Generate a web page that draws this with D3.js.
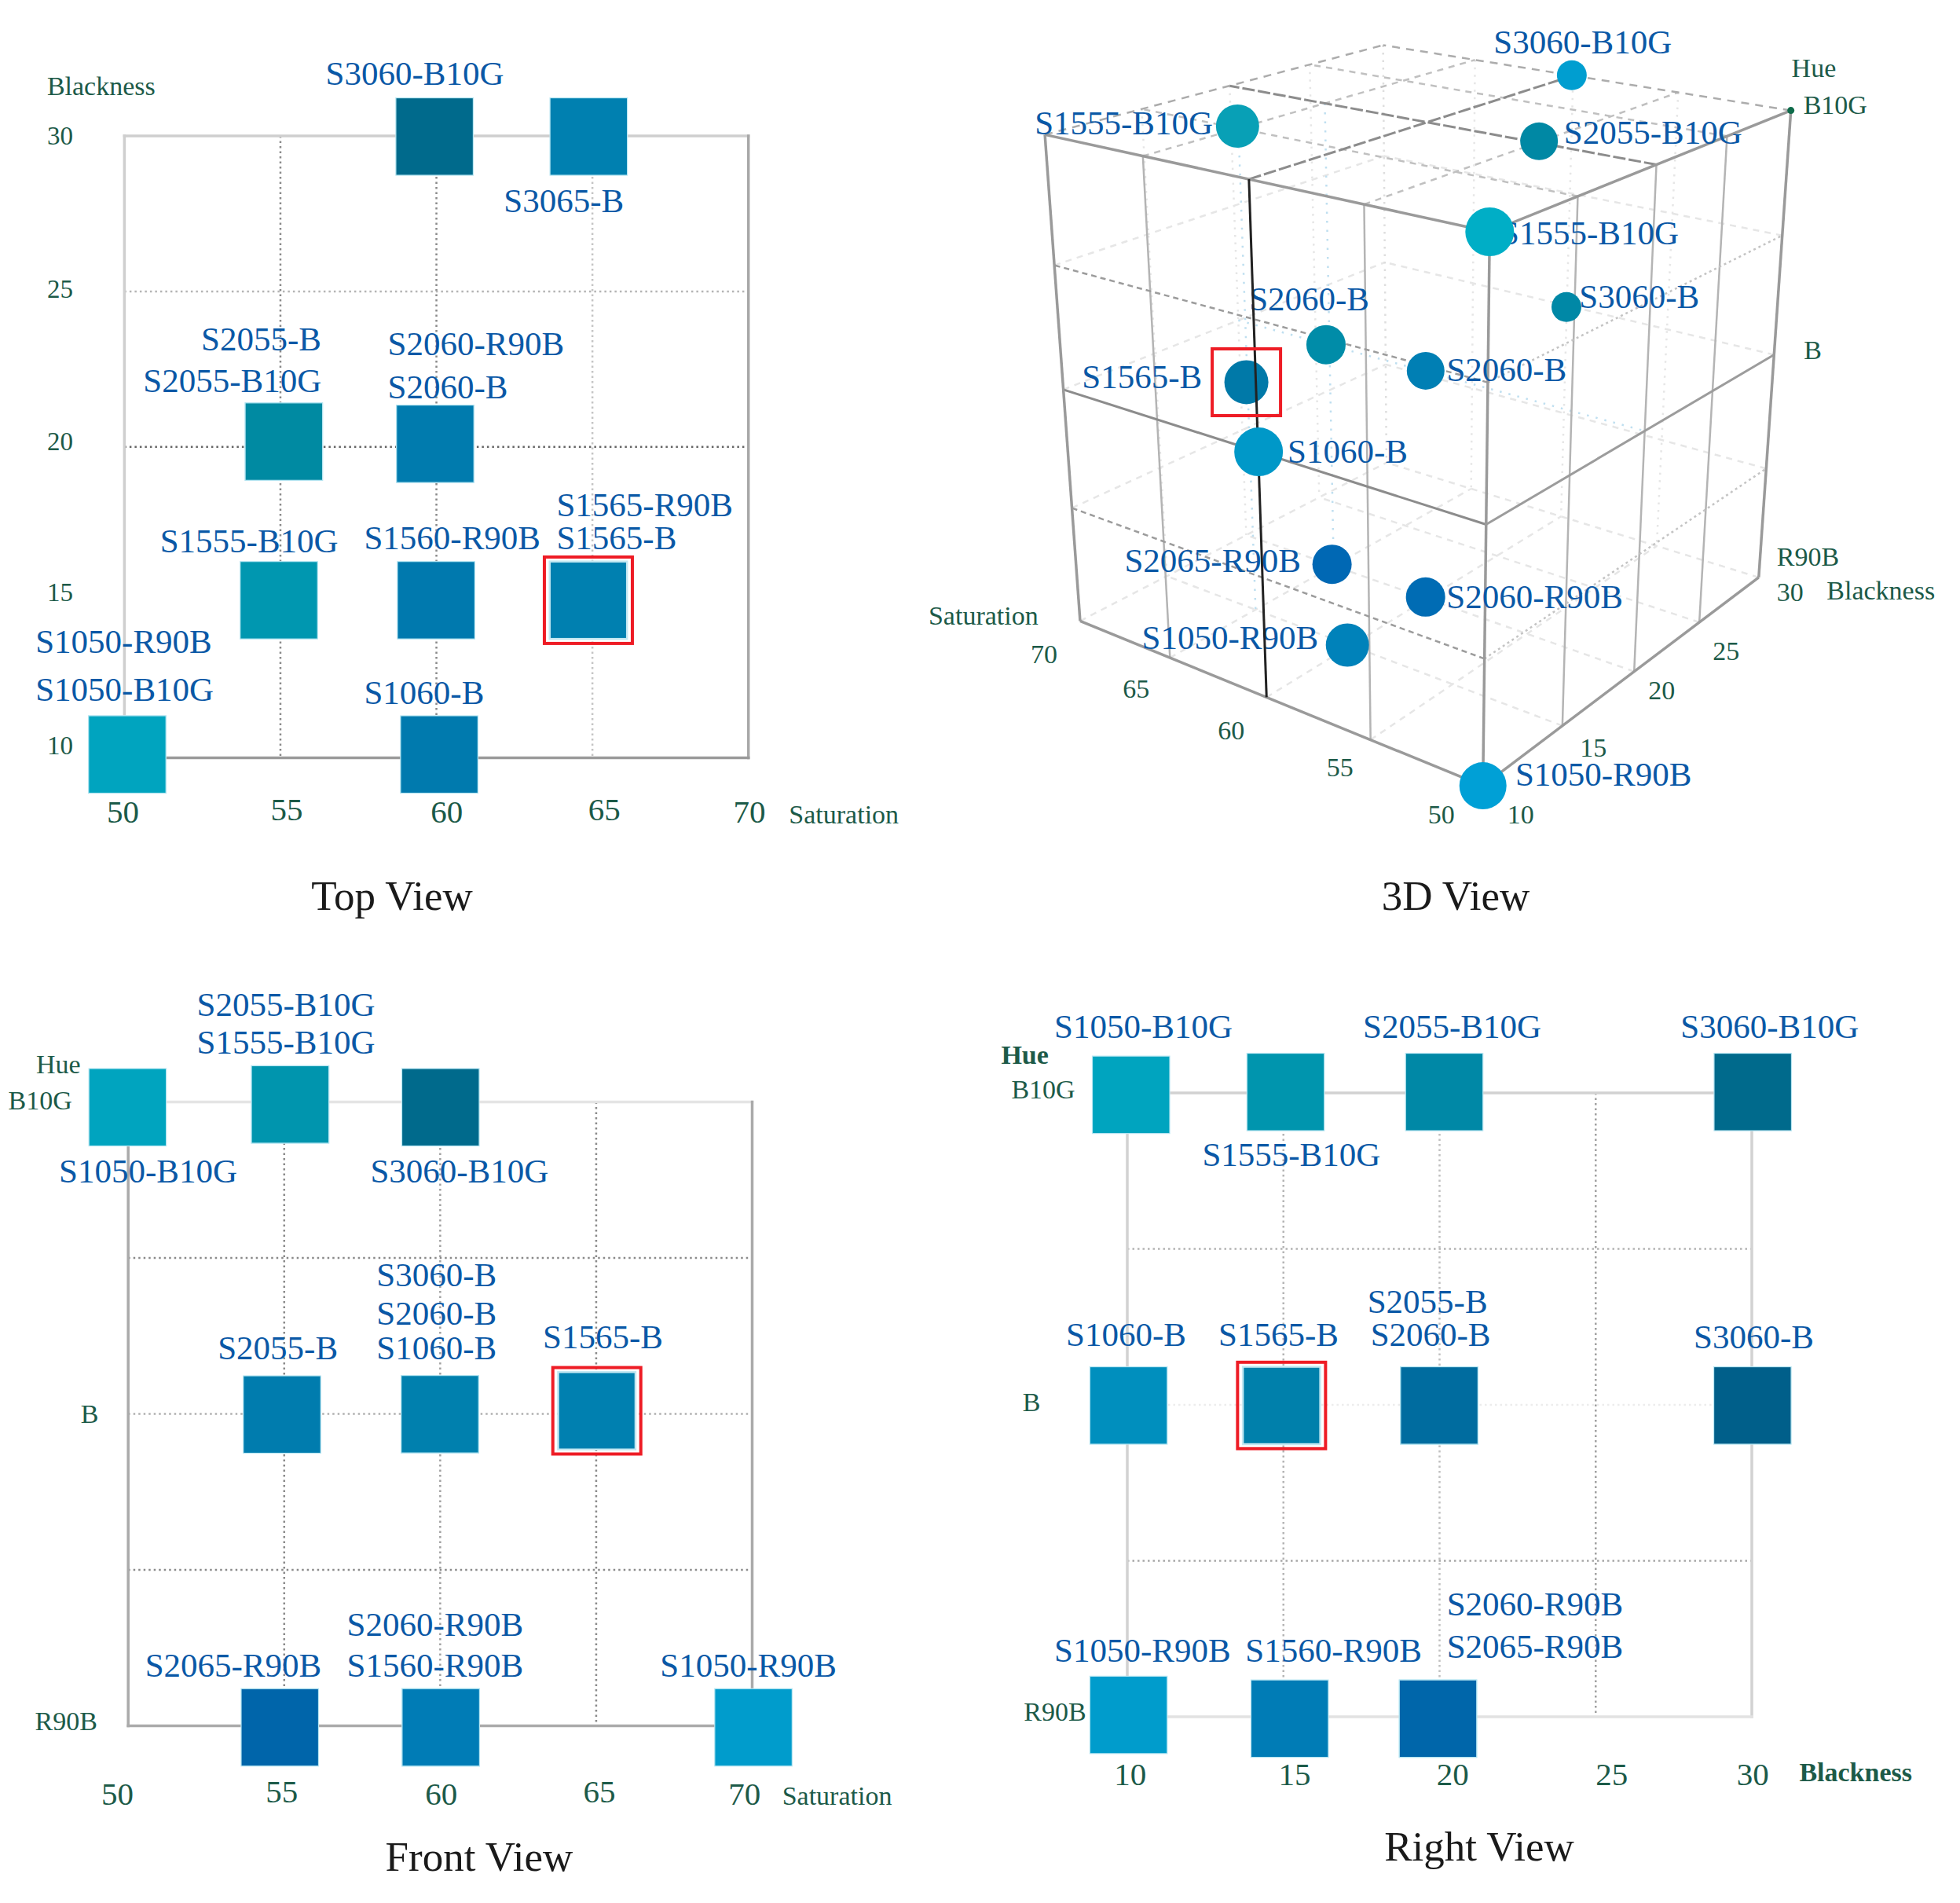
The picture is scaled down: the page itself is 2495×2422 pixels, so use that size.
<!DOCTYPE html>
<html><head><meta charset="utf-8">
<script src="https://cdn.jsdelivr.net/npm/d3@7"></script>
<style>html,body{margin:0;padding:0;background:#fff}svg{display:block}text{font-family:"Liberation Serif","Times New Roman",serif}</style>
</head><body><div id="chart"></div>
<script>
// ---------- shared categories ----------
const hueNames = ["R90B", "B", "B10G"];          // hue index 0,1,2
const satTicks = [50, 55, 60, 65, 70];
const blackTicks = [10, 15, 20, 25, 30];
const selectedSample = "S1565-B";

// ---------- Top view (saturation / blackness) ----------
const topNames = ["S3060-B10G","S3065-B","S2055-B","S2055-B10G","S2060-R90B","S2060-B","S1555-B10G","S1560-R90B","S1565-R90B","S1565-B","S1050-R90B","S1050-B10G","S1060-B"];
const topSat   = [59.94,64.88,55.11,55.11,59.96,59.96,54.95,59.99,64.87,64.87,50.09,50.09,60.09];
const topBlack = [29.98,29.98,20.17,20.17,20.10,20.10,15.07,15.07,15.07,15.07,10.11,10.11,10.11];
const topFill  = ["#006a8c","#0080b0","#008aa2","#008aa2","#007bae","#007bae","#0097b0","#0079ae","#0080b0","#0080b0","#00a4bf","#00a4bf","#007aae"];
const topLabelSat   = [56.45,62.16,52.46,50.60,58.44,58.44,51.14,57.68,63.85,63.85,47.15,47.15,57.68];
const topLabelBlack = [31.64,27.54,23.09,21.77,22.96,21.55,16.61,16.71,17.77,16.71,13.38,11.83,11.74];

// ---------- Front view (saturation / hue) ----------
const frontNames = ["S2055-B10G","S1555-B10G","S1050-B10G","S3060-B10G","S3060-B","S2060-B","S1060-B","S2055-B","S1565-B","S2060-R90B","S1560-R90B","S2065-R90B","S1050-R90B"];
const frontSat   = [55.19,55.19,49.98,60.01,59.99,59.99,59.99,54.93,65.02,60.02,60.02,54.86,70.04];
const frontHue   = [1.992,1.992,1.983,1.983,0.999,0.999,0.999,0.998,1.01,-0.005,-0.005,-0.005,-0.005];
const frontFill  = ["#0095ae","#0095ae","#00a4bf","#006a8c","#0080ae","#0080ae","#0080ae","#007cae","#0080b0","#007cb6","#007cb6","#0065aa","#009ccc"];
const frontLabelSat = [52.20,52.20,47.78,57.76,57.96,57.96,57.96,52.87,63.29,57.01,57.01,50.54,67.05];
const frontLabelHue = [2.276,2.156,1.743,1.743,1.409,1.286,1.175,1.175,1.210,0.288,0.158,0.158,0.158];

// ---------- Right view (blackness / hue) ----------
const rightNames = ["S1050-B10G","S2055-B10G","S3060-B10G","S1555-B10G","S2055-B","S2060-B","S1060-B","S1565-B","S3060-B","S2060-R90B","S2065-R90B","S1050-R90B","S1560-R90B"];
const rightBlack = [10.12,20.15,30.03,15.07,19.99,19.99,10.04,14.94,30.02,19.95,19.95,10.04,15.2];
const rightHue   = [1.994,2.003,2.003,2.003,0.998,0.998,0.998,0.998,0.998,-0.006,-0.006,0.006,-0.006];
const rightFill  = ["#00a4bf","#0088a6","#006a8c","#0095ae","#006c9f","#006c9f","#008fbe","#0080ab","#005f8a","#0066aa","#0066aa","#009ccc","#007cb6"];
const rightLabelBlack = [7.66,17.55,27.72,12.40,17.69,17.79,8.04,12.92,28.14,20.23,20.23,7.66,13.78];
const rightLabelHue   = [2.177,2.177,2.177,1.765,1.294,1.189,1.189,1.189,1.181,0.325,0.189,0.177,0.177];

// ---------- 3D view ----------
const names3d = ["S1555-B10G","S3060-B10G","S2055-B10G","S1555-B10G","S3060-B","S2060-B","S2060-B","S1565-B","S1060-B","S2065-R90B","S2060-R90B","S1050-R90B","S1050-R90B"];
const sat3d   = [65.26,60.08,55.06,50,59.91,65.15,60.11,64.91,59.98,65.15,60.14,60.13,50];
const black3d = [15.24,30.02,20.2,10,29.83,19.96,20.05,14.84,10,20.07,20.08,14.96,10];
const hue3d   = [2,2,2,2,1,1,1,1,1,0,0,0,0];
const fill3d  = ["#08a0b6","#009ed0","#0088a4","#00aec6","#0088a6","#008ca8","#007fb4","#0079a8","#0098c8","#0068b4","#006cb4","#0082ba","#00a0d6"];
// style/placement only
const dotDiameter3d = [55,38,48,62,38,50,48,56,62,50,50,55,60];
const labelDx3d = [-258.2,-99.5,31.7,13.7,16.3,-97.8,26.6,-209.3,36.9,-264.2,26.6,-261.6,41.2];
const labelDy3d = [10.8,-27.8,3.1,16.2,1.5,-43.2,13.1,7.7,13.9,9.3,13.9,5.4,0];

const W = 2495, H = 2422;
const SQ = 98.5;
const LABEL = "#0a58a6", TICK = "#1c5a48", CAP = "#1a1a1a", RED = "#ee1c25";
const svg = d3.select("#chart").append("svg").attr("width", W).attr("height", H).attr("viewBox", `0 0 ${W} ${H}`);
svg.append("rect").attr("width", W).attr("height", H).attr("fill", "#fff");

function flatView(c) {
  const g = svg.append("g");
  const x = d3.scaleLinear().domain(c.xDomain).range([c.left, c.right]);
  const y = d3.scaleLinear().domain(c.yDomain).range([c.bottom, c.top]);
  // dotted grid
  g.selectAll(null).data(c.gridX).join("line")
    .attr("x1", d => x(d.v)).attr("x2", d => x(d.v)).attr("y1", c.top).attr("y2", c.bottom)
    .attr("stroke", d => d.c).attr("stroke-width", 2.5).attr("stroke-dasharray", "2.5 4");
  g.selectAll(null).data(c.gridY).join("line")
    .attr("y1", d => y(d.v)).attr("y2", d => y(d.v)).attr("x1", c.left).attr("x2", c.right)
    .attr("stroke", d => d.c).attr("stroke-width", 2.5).attr("stroke-dasharray", "2.5 4");
  // frame
  const f = c.frame;
  [[c.left,c.top,c.right,c.top,f[0]],[c.right,c.top,c.right,c.bottom,f[1]],[c.left,c.bottom,c.right,c.bottom,f[2]],[c.left,c.top,c.left,c.bottom,f[3]]]
    .forEach(s => g.append("line").attr("x1", s[0]).attr("y1", s[1]).attr("x2", s[2]).attr("y2", s[3]).attr("stroke", s[4]).attr("stroke-width", 3.5).attr("stroke-linecap", "square"));
  // squares
  const idx = d3.range(c.names.length);
  g.selectAll(null).data(idx).join("rect")
    .attr("x", i => x(c.xs[i]) - SQ / 2).attr("y", i => y(c.ys[i]) - SQ / 2)
    .attr("width", SQ).attr("height", SQ).attr("fill", i => c.fills[i])
    .attr("stroke", i => c.names[i] === selectedSample ? "#c4e8f2" : "#b8e6f2")
    .attr("stroke-width", i => c.names[i] === selectedSample ? 2.5 : 1.2);
  // selection box
  const s = c.names.indexOf(selectedSample);
  g.append("rect").attr("x", x(c.xs[s]) - 56).attr("y", y(c.ys[s]) - 55).attr("width", 112).attr("height", 110)
    .attr("fill", "none").attr("stroke", RED).attr("stroke-width", 4);
  // sample labels
  g.selectAll(null).data(idx).join("text")
    .attr("x", i => x(c.labelX[i])).attr("y", i => y(c.labelY[i]))
    .attr("font-size", 43).attr("fill", LABEL).text(i => c.names[i]);
  // axes
  const ax = g.append("g").attr("transform", `translate(0,${c.bottom})`).attr("class", "xa")
    .call(d3.axisBottom(x).tickValues(c.xTicks).tickSize(0).tickFormat(d3.format("d")));
  ax.select(".domain").remove();
  ax.attr("font-family", null).attr("font-size", c.xFont).style("color", TICK);
  ax.selectAll(".tick text").attr("x", (d, i) => c.xNudge[i]).attr("y", (d, i) => c.xBase[i]).attr("dy", 0);
  const ay = g.append("g").attr("transform", `translate(${c.left},0)`)
    .call(d3.axisLeft(y).tickValues(c.yTicks).tickSize(0).tickFormat(c.yFormat));
  ay.select(".domain").remove();
  ay.attr("font-family", null).attr("font-size", c.yFont).style("color", TICK);
  ay.selectAll(".tick text").attr("text-anchor", "middle").attr("x", (d, i) => c.yOff[i]).attr("y", (d, i) => c.yNudge[i]);
  // axis titles
  c.titles.forEach(t => g.append("text").attr("x", x(t.x)).attr("y", y(t.y)).attr("font-size", 34)
    .attr("font-weight", t.bold ? "bold" : null).attr("fill", TICK).text(t.t));
  // caption
  g.append("text").attr("x", c.cap[1]).attr("y", c.cap[2]).attr("text-anchor", "middle").attr("font-size", 53).attr("fill", CAP).text(c.cap[0]);
}

flatView({
  left: 158.4, right: 952.7, top: 173, bottom: 964.6, xDomain: [50, 70], yDomain: [10, 30],
  names: topNames, xs: topSat, ys: topBlack, fills: topFill, labelX: topLabelSat, labelY: topLabelBlack,
  gridX: [{v:55,c:"#8a8a8a"},{v:60,c:"#8a8a8a"},{v:65,c:"#c4c4c4"}],
  gridY: [{v:20,c:"#666"},{v:25,c:"#b4b4b4"}],
  frame: ["#cfcfcf","#a8a8a8","#9a9a9a","#cfcfcf"],
  xTicks: satTicks, xFont: 41, xNudge: [-2.4,7.6,12.7,14.7,0.8], xBase: [82.6,79.5,82.6,79.5,82.6],
  yTicks: blackTicks, yFormat: d3.format("d"), yFont: 33, yOff: [-82,-82,-82,-82,-82], yNudge: [-15.4,-12.4,-7.3,-2.5,0],
  titles: [{t:"Blackness",x:47.52,y:31.31},{t:"Saturation",x:71.30,y:7.89}],
  cap: ["Top View", 499, 1158]
});

flatView({
  left: 163.2, right: 957.5, top: 1402.5, bottom: 2196.5, xDomain: [50, 70], yDomain: [0, 2],
  names: frontNames, xs: frontSat, ys: frontHue, fills: frontFill, labelX: frontLabelSat, labelY: frontLabelHue,
  gridX: [{v:55,c:"#8a8a8a"},{v:60,c:"#a0a0a0"},{v:65,c:"#8a8a8a"}],
  gridY: [{v:0.5,c:"#8a8a8a"},{v:1,c:"#b0b0b0"},{v:1.5,c:"#8a8a8a"}],
  frame: ["#e4e4e4","#aaaaaa","#aaaaaa","#aaaaaa"],
  xTicks: satTicks, xFont: 41, xNudge: [-14.3,-3.6,0.8,3.6,-10.3], xBase: [100.4,97.3,100.4,97.3,100.4],
  yTicks: [0,1,2], yFormat: d => hueNames[d], yFont: 34, yOff: [-79,-49,-112], yNudge: [-6,0,-1.5],
  titles: [{t:"Saturation",x:70.96,y:-0.253},{t:"Hue",x:47.05,y:2.091}],
  cap: ["Front View", 610, 2381]
});

flatView({
  left: 1435, right: 2230, top: 1391, bottom: 2185, xDomain: [10, 30], yDomain: [0, 2],
  names: rightNames, xs: rightBlack, ys: rightHue, fills: rightFill, labelX: rightLabelBlack, labelY: rightLabelHue,
  gridX: [{v:15,c:"#b4b4b4"},{v:20,c:"#c0c0c0"},{v:25,c:"#a0a0a0"}],
  gridY: [{v:0.5,c:"#a8a8a8"},{v:1,c:"#ececec"},{v:1.5,c:"#b4b4b4"}],
  frame: ["#d2d2d2","#d2d2d2","#e2e2e2","#d2d2d2"],
  xTicks: blackTicks, xFont: 41, xNudge: [3.2,13.8,16.3,19.9,0.8], xBase: [86.5,86.5,86.5,86.5,86.5],
  yTicks: [0,1,2], yFormat: d => hueNames[d], yFont: 34, yOff: [-92,-122,-107], yNudge: [-6,-3,-3.9],
  titles: [{t:"Blackness",x:31.52,y:-0.206,bold:true},{t:"Hue",x:5.96,y:2.093,bold:true}],
  cap: ["Right View", 1883, 2368]
});

// ---------- 3D view: true perspective map fixed by the four visible cube corners ----------
const uScale = d3.scaleLinear().domain([50, 70]).range([0, 1]);
const vScale = d3.scaleLinear().domain([10, 30]).range([0, 1]);
const wScale = d3.scaleLinear().domain([2, 0]).range([0, 1]);
const cam = { p0:[1896.3,295], pu:[1330.1,171.4], pv:[2279.7,140.6], pw:[1887.7,1000.1], du:1.18, dv:1.24, dw:1.12 };
function proj(sat, black, hue) {
  const u = uScale(sat), v = vScale(black), w = wScale(hue);
  const k = 1 + (cam.du-1)*u + (cam.dv-1)*v + (cam.dw-1)*w;
  const c = i => (cam.p0[i] + u*(cam.du*cam.pu[i]-cam.p0[i]) + v*(cam.dv*cam.pv[i]-cam.p0[i]) + w*(cam.dw*cam.pw[i]-cam.p0[i])) / k;
  return [c(0), c(1)];
}
const g3 = svg.append("g");
function seg(a, b, color, width, dash) {
  const p = proj(...a), q = proj(...b);
  g3.append("line").attr("x1", p[0]).attr("y1", p[1]).attr("x2", q[0]).attr("y2", q[1])
    .attr("stroke", color).attr("stroke-width", width).attr("stroke-dasharray", dash || null);
}
const innerSat = [55,60,65], innerBlack = [15,20,25], innerHue = [0.5,1,1.5];
const DOT = "2.5 7", DASH = "8 7", FAINT = "#e6e6e6";
// back walls and floor, faint
innerSat.forEach(s => { seg([s,30,2],[s,30,0],FAINT,2.5,DOT); seg([s,10,0],[s,30,0],FAINT,2.5,DASH); });
innerBlack.forEach(b => { seg([70,b,2],[70,b,0],FAINT,2.5,DOT); seg([50,b,0],[70,b,0],FAINT,2.5,DASH); });
innerHue.forEach(h => { seg([70,10,h],[70,30,h],FAINT,2.5,DASH); seg([50,30,h],[70,30,h],FAINT,2.5,DASH); });
seg([70,30,2],[70,30,0],"#dedede",2.5,DOT);
seg([70,10,0],[70,30,0],FAINT,2.5,DASH); seg([50,30,0],[70,30,0],FAINT,2.5,DASH);
// faint blue drop lines
const BLUE = "#bfdff0";
seg([65,15,2],[65,15,0],BLUE,2.5,"2.5 9");
seg([65,20,2],[65,20,0],BLUE,2.5,"2.5 9");
seg([70,20,1],[50,20,1],BLUE,2.5,"2.5 9");
// top face
[55,65].forEach(s => seg([s,10,2],[s,30,2],"#c0c0c0",2.5,DASH));
[15,25].forEach(b => seg([50,b,2],[70,b,2],"#c0c0c0",2.5,DASH));
seg([60,10,2],[60,30,2],"#8c8c8c",3,"16 4"); seg([50,20,2],[70,20,2],"#8c8c8c",3,"16 4");
seg([70,10,2],[70,30,2],"#acacac",2.5,"10 8"); seg([50,30,2],[70,30,2],"#acacac",2.5,"10 8");
// front faces
[55,65].forEach(s => seg([s,10,2],[s,10,0],"#b4b4b4",2.5));
innerBlack.forEach(b => seg([50,b,2],[50,b,0],"#b4b4b4",2.5));
[0.5,1.5].forEach(h => { seg([50,10,h],[70,10,h],"#9c9c9c",2.5,"7 5"); seg([50,10,h],[50,30,h],"#c4c4c4",2.5,"3 4"); });
seg([50,10,1],[70,10,1],"#8c8c8c",3); seg([50,10,1],[50,30,1],"#9c9c9c",3);
[[[70,10,2],[50,10,2]],[[50,10,2],[50,30,2]],[[70,10,2],[70,10,0]],[[50,30,2],[50,30,0]],[[50,10,2],[50,10,0]],[[70,10,0],[50,10,0]],[[50,10,0],[50,30,0]]]
  .forEach(e => seg(e[0], e[1], "#9a9a9a", 3.5));
// labels below dots
const idx3 = d3.range(names3d.length);
g3.selectAll(null).data(idx3).join("text")
  .attr("x", i => proj(sat3d[i],black3d[i],hue3d[i])[0] + labelDx3d[i])
  .attr("y", i => proj(sat3d[i],black3d[i],hue3d[i])[1] + labelDy3d[i])
  .attr("font-size", 43).attr("fill", LABEL).text(i => names3d[i]);
// dots, with the dark sat-60 line passing over the selected dot but under S1060-B
function dots(list) {
  g3.selectAll(null).data(list).join("circle")
    .attr("cx", i => proj(sat3d[i],black3d[i],hue3d[i])[0])
    .attr("cy", i => proj(sat3d[i],black3d[i],hue3d[i])[1])
    .attr("r", i => dotDiameter3d[i] / 2).attr("fill", i => fill3d[i]);
}
dots(idx3.filter(i => i <= 7));
seg([60,10,2],[60,10,0],"#222",3);
dots(idx3.filter(i => i > 7));
const sel3 = proj(sat3d[7],black3d[7],hue3d[7]);
g3.append("rect").attr("x", sel3[0]-43.5).attr("y", sel3[1]-42.5).attr("width", 87).attr("height", 85).attr("fill","none").attr("stroke",RED).attr("stroke-width",4);
// 3D tick labels
const satTickOff3d = [[-53,37],[-39,36],[-45,43],[-43,40],[-46,43]];
const blackTickOff3d = [[48,37],[39.5,28],[35,24],[34,37],[40,19.7]];
function tick3(text, p, off) {
  g3.append("text").attr("x", p[0]+off[0]).attr("y", p[1]+off[1]).attr("dy",".32em").attr("text-anchor","middle").attr("font-size",34).attr("fill",TICK).text(text);
}
satTicks.forEach((s,i) => tick3(s, proj(s,10,0), satTickOff3d[i]));
blackTicks.forEach((b,i) => tick3(b, proj(50,b,0), blackTickOff3d[i]));
function note3(text, p, dx, dy) {
  g3.append("text").attr("x", p[0]+dx).attr("y", p[1]+dy).attr("font-size",34).attr("fill",TICK).text(text);
}
note3("B10G", proj(50,30,2), 16, 4.6);
note3("B", proj(50,30,1), 38, 5.8);
note3("R90B", proj(50,30,0), 23, -15);
note3("Hue", proj(50,30,2), 0.9, -43);
note3("Blackness", proj(50,30,0), 86.5, 28);
note3("Saturation", proj(70,10,0), -193, 4.6);
const hueDot = proj(50,30,2);
g3.append("circle").attr("cx",hueDot[0]).attr("cy",hueDot[1]).attr("r",4.5).attr("fill","#0e6b4a");
g3.append("text").attr("x",1853).attr("y",1158).attr("text-anchor","middle").attr("font-size",53).attr("fill",CAP).text("3D View");
</script></body></html>
